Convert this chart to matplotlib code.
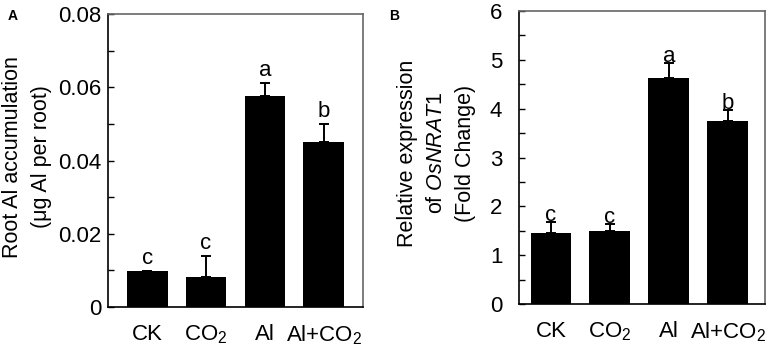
import numpy as np
import matplotlib
matplotlib.use("Agg")
import matplotlib.pyplot as plt
from matplotlib.ticker import MultipleLocator

plt.rcParams['font.family'] = ['Liberation Sans', 'DejaVu Sans']
plt.rcParams['mathtext.fontset'] = 'custom'
plt.rcParams['mathtext.rm'] = 'Liberation Sans'
plt.rcParams['mathtext.it'] = 'Liberation Sans:italic'

groups = ['CK', 'CO$_2$', 'Al', 'Al+CO$_2$']

# panel A: root Al accumulation
al_mean = [0.0099, 0.0083, 0.0576, 0.0450]
al_err = [0.0, 0.0056, 0.0035, 0.0050]
al_letters = ['c', 'c', 'a', 'b']

# panel B: OsNRAT1 relative expression
nrat_mean = [1.45, 1.50, 4.62, 3.75]
nrat_err = [0.22, 0.13, 0.31, 0.22]
nrat_letters = ['c', 'c', 'a', 'b']

W, H = 768, 346
fig = plt.figure(figsize=(W / 100, H / 100), dpi=100)

def make_axes(left, right, top, bottom):
    return fig.add_axes([left / W, 1 - bottom / H, (right - left) / W, (bottom - top) / H])

axA = make_axes(108, 363, 14, 307)
axB = make_axes(519, 765, 11, 304)

x = np.arange(1, 5)
fs = 16
fs_lab = 15.5

def draw(ax, mean, err, letters, ylim, major, minor, xlim, ypad, yfmt, letter_off):
    ax.bar(x, mean, width=0.69, color='black', zorder=2)
    ax.errorbar(x, mean, yerr=[np.zeros(4), err], fmt='none', ecolor='black',
                elinewidth=1.4, capsize=3.5, capthick=1.4, zorder=3)
    for xi, m, e, lab in zip(x, mean, err, letters):
        ax.annotate(lab, (xi, m + e), xytext=(0, letter_off), textcoords='offset points',
                    ha='center', va='baseline', fontsize=fs)
    ax.set_xlim(*xlim)
    ax.set_ylim(*ylim)
    ax.yaxis.set_major_locator(MultipleLocator(major))
    ax.yaxis.set_minor_locator(MultipleLocator(minor))
    ax.yaxis.set_major_formatter(yfmt)
    ax.set_xticks(x)
    ax.set_xticklabels(groups, fontsize=fs)
    ax.tick_params(axis='x', length=0, pad=12)
    ax.tick_params(axis='y', which='both', direction='in', length=4, width=1,
                   labelsize=fs, pad=ypad, right=False)
    for s in ['left', 'bottom']:
        ax.spines[s].set_linewidth(1.2)
        ax.spines[s].set_color('black')
    for s in ['top', 'right']:
        ax.spines[s].set_linewidth(1.2)
        ax.spines[s].set_color('#666666')

fmtA = lambda v, p: '0' if abs(v) < 1e-9 else f'{v:.2f}'
fmtB = lambda v, p: f'{v:.0f}'
draw(axA, al_mean, al_err, al_letters, (0, 0.08), 0.02, 0.01, (0.33, 4.67), 5,
     plt.FuncFormatter(fmtA), 5)
draw(axB, nrat_mean, nrat_err, nrat_letters, (0, 6), 1, 0.5, (0.46, 4.63), 12,
     plt.FuncFormatter(fmtB), 1)

fig.text(27 / W, 1 - 157 / H, 'Root Al accumulation\n(\u03bcg Al per root)', rotation=90,
         ha='center', va='center', fontsize=fs_lab, linespacing=1.5)
fig.text(437 / W, 1 - 153 / H, 'Relative expression\nof $\\it{OsNRAT1}$\n(Fold Change)',
         rotation=90, ha='center', va='center', fontsize=fs_lab, linespacing=1.5)

fig.text(13 / W, 1 - 16 / H, 'A', fontsize=10, fontweight='bold', ha='center', va='center')
fig.text(394 / W, 1 - 16 / H, 'B', fontsize=10, fontweight='bold', ha='center', va='center')

fig.savefig('out.png', dpi=100)
